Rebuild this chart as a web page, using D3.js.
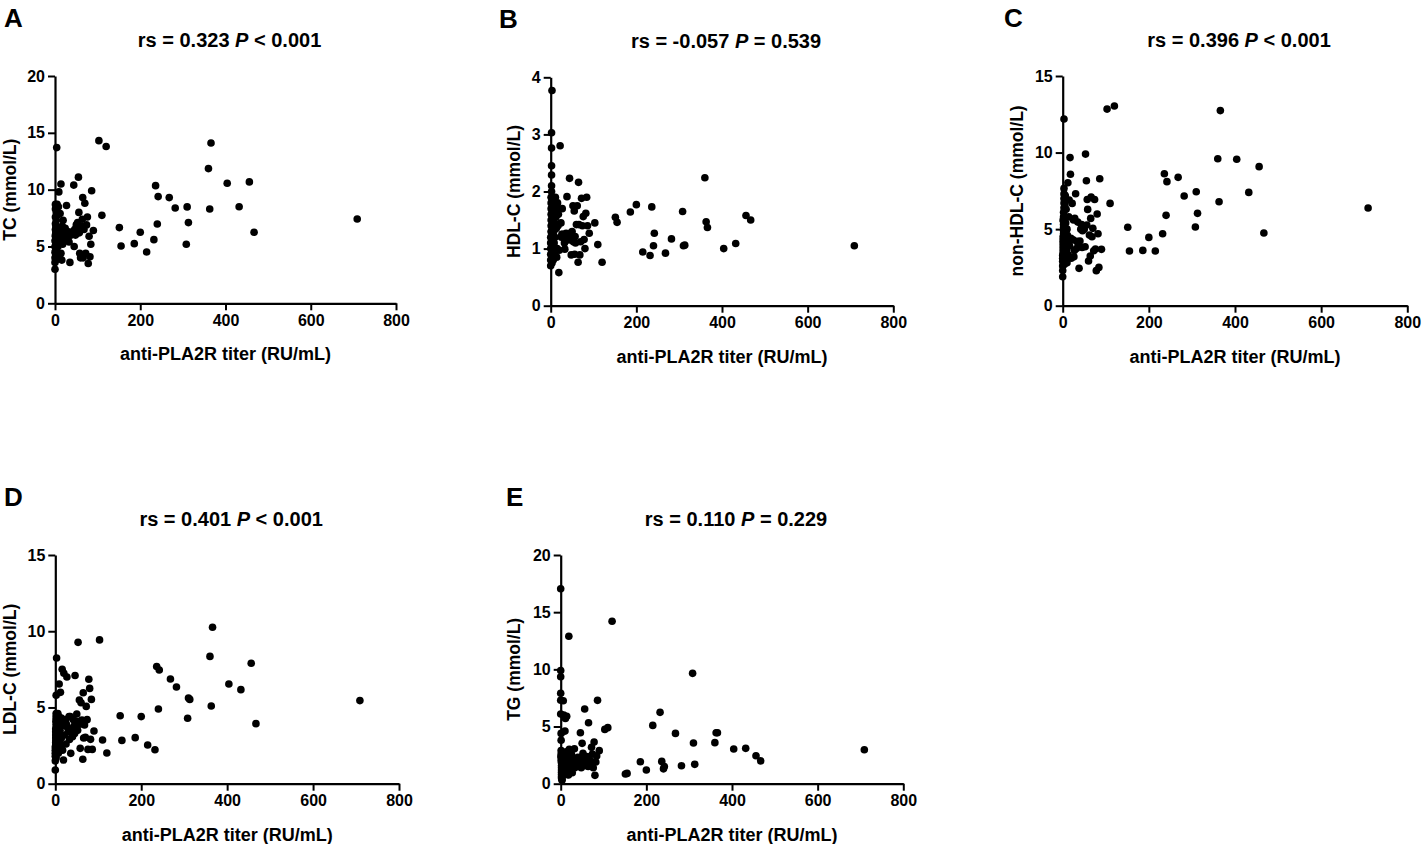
<!DOCTYPE html>
<html><head><meta charset="utf-8">
<script src="https://cdn.jsdelivr.net/npm/d3@7"></script>
<style>
body{margin:0;background:#fff}
svg{display:block}
text{font-family:"Liberation Sans",Arial,sans-serif;font-weight:bold;fill:#000}
</style></head>
<body><svg id="chart" width="1423" height="844"></svg>
<script>
// ---- DATA ----
const titer = [
  0,0,0,0,0,0,1,1,1,1,1,1,2,2,2,2,2,2,2,3,3,3,3,3,3,4,4,4,4,4,1,2,
  5,5,6,6,7,7,8,8,9,10,10,11,12,13,14,14,15,16,17,18,19,20,
  22,24,25,26,27,28,30,32,33,35,36,38,40,42,44,45,46,48,50,52,53,55,56,57,58,60,62,64,65,66,68,70,72,74,76,78,80,82,84,86,90,
  103,110,120,151,155,186,200,215,232,236,240,242,268,282,308,310,313,360,363,366,404,432,456,467,709
];
const tcValues = [
  3.0,3.6,4.0,4.5,5.0,5.5,6.0,6.5,7.0,7.6,8.3,8.7,3.8,4.3,4.8,5.3,5.8,6.3,6.8,7.3,8.0,4.1,5.6,6.1,6.6,13.7,8.6,7.9,5.2,4.6,5.9,6.2,
  8.7,5.7,4.2,6.4,7.8,5.0,8.5,6.0,9.8,4.1,6.6,5.5,7.9,6.2,10.5,4.4,5.8,3.8,6.8,5.2,7.3,6.1,
  5.6,6.6,6.0,5.9,8.6,6.2,5.8,6.3,5.4,3.6,6.1,6.0,6.2,6.3,10.4,5.0,6.5,6.0,6.9,6.7,7.1,11.1,8.0,6.2,4.4,4.0,6.8,7.4,9.3,4.0,6.5,8.8,4.4,6.9,7.6,3.5,5.9,4.1,5.2,9.9,6.4,
  14.31,7.74,13.8,6.66,5.04,5.25,6.25,4.52,5.6,10.35,6.98,9.39,9.3,8.39,5.19,8.48,7.1,11.85,8.3,14.1,10.56,8.5,10.68,6.25,7.42
];
const hdlValues = [
  0.7,0.8,0.9,1.0,1.1,1.2,1.3,1.4,1.5,1.6,1.7,1.8,1.9,2.0,2.1,2.29,2.45,2.76,3.03,3.77,0.75,0.85,0.95,1.05,1.15,1.25,1.35,1.45,1.55,1.65,1.9,1.3,
  1.5,1.0,1.85,0.8,1.3,1.6,1.1,1.75,1.45,0.9,1.2,1.9,1.55,1.35,0.85,1.7,1.0,1.8,1.4,1.6,0.58,0.97,
  2.80,1.45,1.2,1.25,1.70,1.25,1.2,1.1,0.99,1.15,1.27,1.91,1.2,1.15,2.23,1.27,1.2,0.89,1.3,1.75,1.12,1.66,0.9,1.21,1.10,1.42,1.75,0.76,2.16,1.42,0.89,1.12,1.88,1.4,1.56,1.16,1.0,1.62,1.9,1.4,1.27,
  1.45,1.07,0.76,1.55,1.46,1.64,1.77,0.94,0.88,1.73,1.05,1.27,0.92,1.17,1.65,1.05,1.06,2.24,1.47,1.37,1.0,1.09,1.58,1.5,1.05
];
const nonHdlValues = [
  1.89,2.3,2.6,2.9,3.1,3.3,3.5,3.7,3.9,4.1,4.3,4.5,4.7,4.9,5.1,5.3,5.5,5.8,6.1,6.4,6.7,7.0,7.3,7.66,12.19,4.0,3.6,4.4,2.7,3.2,5.6,4.2,
  6.6,3.4,4.9,7.2,3.0,5.4,4.3,6.3,3.6,5.0,2.8,4.6,8.03,3.3,5.8,4.1,6.9,3.9,9.67,8.58,4.4,3.1,
  6.68,4.3,5.6,3.2,3.6,5.70,7.31,3.74,4.2,5.46,4.1,2.44,4.22,5.0,5.3,3.8,4.9,5.2,5.0,3.85,9.9,8.16,5.27,6.94,6.29,2.92,4.61,3.24,5.70,7.1,4.5,5.05,3.59,6.94,3.7,2.29,5.99,4.70,2.5,8.29,3.68,
  12.84,6.68,13.04,5.12,3.57,3.61,4.46,3.57,4.70,8.62,5.90,8.10,8.38,7.16,5.14,7.44,6.03,9.60,6.79,12.74,9.56,7.40,9.08,4.75,6.38
];
const ldlValues = [
  0.9,1.5,1.8,2.0,2.2,2.4,2.6,2.8,3.0,3.2,3.4,3.6,3.8,4.0,4.2,4.4,4.6,5.8,1.7,2.5,3.1,3.5,3.9,8.24,4.3,2.1,2.9,3.3,4.5,3.7,2.7,4.1,
  4.2,2.3,3.6,4.6,2.0,3.9,3.2,4.4,6.54,2.8,4.0,3.5,5.99,2.5,4.3,3.0,3.8,7.5,2.2,4.1,1.55,7.24,
  3.19,4.2,2.6,3.9,7.0,3.70,3.4,4.4,2.9,4.40,1.99,3.6,3.08,4.2,3.8,3.30,7.1,4.1,4.57,3.5,9.27,4.07,5.49,3.9,2.32,5.31,4.18,1.60,5.97,3.0,3.85,3.04,5.07,4.2,2.25,6.85,6.25,2.91,5.53,2.25,3.46,
  9.43,2.87,2.01,4.46,2.84,3.02,4.40,2.54,2.23,7.68,4.90,7.46,6.87,6.34,4.29,5.62,5.53,8.35,5.10,10.26,6.54,6.17,7.9,3.94,5.45
];
const tgValues = [
  17.05,9.9,9.35,7.9,7.3,6.1,4.4,3.8,2.9,2.6,2.3,2.0,1.8,1.6,1.4,1.2,1.0,0.8,0.6,0.4,0.3,2.2,1.5,1.1,0.9,0.7,1.9,2.7,1.3,1.7,2.4,0.5,
  2.1,1.3,7.26,0.9,6.0,1.6,2.5,1.1,1.8,4.6,2.2,5.7,1.4,2.8,5.9,1.0,1.7,2.4,0.8,0.76,12.9,3.0,
  2.0,1.2,2.6,1.5,0.96,1.9,2.2,3.06,1.4,1.7,2.1,1.6,2.3,1.8,1.5,2.0,4.46,1.4,3.53,2.65,1.9,2.2,6.53,1.6,2.4,1.8,2.0,1.5,5.33,2.36,1.7,2.0,3.18,2.6,1.4,3.64,0.73,1.9,2.42,7.29,2.89,
  4.75,4.9,14.2,0.85,0.9,1.92,1.2,5.1,6.24,1.95,1.3,1.5,4.4,1.57,9.65,3.56,1.69,3.59,4.46,4.46,3.03,3.09,2.45,2.0,2.97
];
const xTicks = [0, 200, 400, 600, 800];
const xLabel = "anti-PLA2R titer (RU/mL)";
const panelLetters = ["A", "B", "C", "D", "E"];
const yLabels = ["TC (mmol/L)", "HDL-C (mmol/L)", "non-HDL-C (mmol/L)", "LDL-C (mmol/L)", "TG (mmol/L)"];
const yTickSets = [[0,5,10,15,20], [0,1,2,3,4], [0,5,10,15], [0,5,10,15], [0,5,10,15,20]];
const rsValues = ["0.323", "-0.057", "0.396", "0.401", "0.110"];
const pTexts = ["< 0.001", "= 0.539", "< 0.001", "< 0.001", "= 0.229"];
const seriesValues = [tcValues, hdlValues, nonHdlValues, ldlValues, tgValues];

// ---- LAYOUT ----
const layout = [
  {left:55,    right:396,   bottom:303.3, top:76,   letterX:4,    labOff:39},
  {left:550.7, right:893.3, bottom:305.7, top:77.3, letterX:499,  labOff:31},
  {left:1062.7,right:1407.3,bottom:305.7, top:76,   letterX:1004, labOff:40},
  {left:55.3,  right:399,   bottom:783.7, top:555,  letterX:4,    labOff:39},
  {left:560.7, right:903.3, bottom:783.7, top:555,  letterX:506,  labOff:41}
];

const svg = d3.select("#chart");
const FONT = '"Liberation Sans",Arial,sans-serif';

seriesValues.forEach((vals, i) => {
  const L = layout[i];
  const yt = yTickSets[i];
  const x = d3.scaleLinear().domain([0, 800]).range([L.left, L.right]);
  const y = d3.scaleLinear().domain([0, yt[yt.length - 1]]).range([L.bottom, L.top]);
  const g = svg.append("g");

  // points
  g.append("g").selectAll("circle")
    .data(titer.map((t, k) => [t, vals[k]]))
    .join("circle")
    .attr("cx", d => x(d[0]))
    .attr("cy", d => y(d[1]))
    .attr("r", 3.8)
    .attr("fill", "#000");

  // axes
  const xa = g.append("g").attr("transform", `translate(0,${L.bottom})`)
    .call(d3.axisBottom(x).tickValues(xTicks).tickFormat(d3.format("d")).tickSize(7).tickSizeOuter(0).tickPadding(4));
  const ya = g.append("g").attr("transform", `translate(${L.left},0)`)
    .call(d3.axisLeft(y).tickValues(yt).tickFormat(d3.format("d")).tickSize(7).tickSizeOuter(0).tickPadding(3));
  [xa, ya].forEach(a => {
    a.select(".domain").attr("stroke", "#000").attr("stroke-width", 2.2);
    a.selectAll(".tick line").attr("stroke", "#000").attr("stroke-width", 2);
    a.selectAll(".tick text").attr("font-size", 16).attr("font-weight", "bold")
      .attr("font-family", FONT).attr("fill", "#000");
  });

  // x label
  g.append("text")
    .attr("x", (L.left + L.right) / 2)
    .attr("y", L.bottom + 57)
    .attr("text-anchor", "middle")
    .attr("font-size", 18)
    .text(xLabel);

  // y label
  g.append("text")
    .attr("transform", `translate(${L.left - L.labOff},${(L.top + L.bottom) / 2}) rotate(-90)`)
    .attr("text-anchor", "middle")
    .attr("font-size", 17.5)
    .text(yLabels[i]);

  // title
  const t = g.append("text")
    .attr("x", (L.left + L.right) / 2 + 4)
    .attr("y", L.top - 29)
    .attr("text-anchor", "middle")
    .attr("font-size", 20);
  t.append("tspan").text(`rs = ${rsValues[i]} `);
  t.append("tspan").attr("font-style", "italic").text("P");
  t.append("tspan").text(` ${pTexts[i]}`);

  // panel letter
  g.append("text")
    .attr("x", L.letterX)
    .attr("y", L.top - 49)
    .attr("font-size", 26)
    .text(panelLetters[i]);
});
</script>
</body></html>
